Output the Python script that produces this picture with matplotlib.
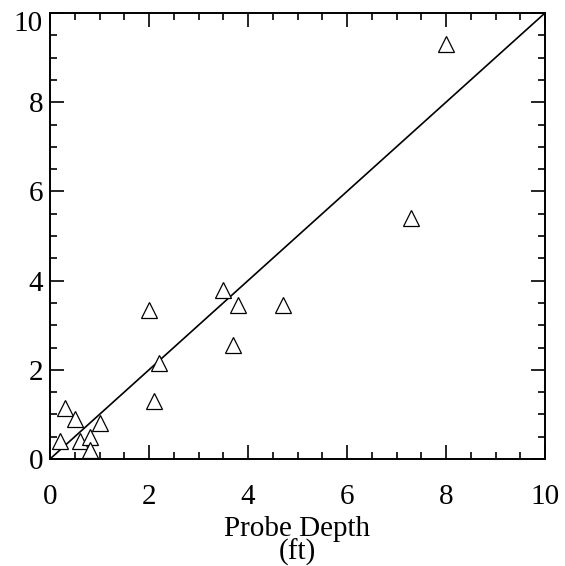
import matplotlib
matplotlib.use("Agg")
import matplotlib.pyplot as plt
import matplotlib.transforms as mtransforms
from matplotlib.ticker import MultipleLocator

# Measured vs probe depth (ft)
probe_depth = [8.0, 7.3, 4.7, 3.5, 3.8, 3.7, 2.0, 2.2, 2.1,
               0.2, 0.3, 0.5, 0.6, 0.8, 0.8, 1.0]
measured = [9.3, 5.4, 3.45, 3.8, 3.45, 2.55, 3.35, 2.15, 1.3,
            0.4, 1.15, 0.9, 0.4, 0.5, 0.2, 0.8]
one_to_one = [0, 10]

plt.rcParams["font.family"] = ["Liberation Serif", "DejaVu Serif"]

fig = plt.figure(figsize=(5.65, 5.66), dpi=100)
ax = fig.add_axes([50 / 565, 1 - 459 / 566, 495 / 565, 446 / 566])

ax.plot(one_to_one, one_to_one, color="black", lw=1.2)
ax.plot(probe_depth, measured, linestyle="none", marker="^", ms=11.5,
        mfc="white", mec="black", mew=0.9)

ax.set_xlim(0, 10)
ax.set_ylim(0, 10)
ax.xaxis.set_major_locator(MultipleLocator(2))
ax.xaxis.set_minor_locator(MultipleLocator(0.5))
ax.yaxis.set_major_locator(MultipleLocator(2))
ax.yaxis.set_minor_locator(MultipleLocator(0.5))
ax.tick_params(which="both", direction="in", top=True, right=True,
               width=1.2, labelsize=21, colors="black")
ax.tick_params(which="major", length=10)
ax.tick_params(which="minor", length=5)
ax.tick_params(axis="x", pad=18)
ax.tick_params(axis="y", pad=5)
for s in ax.spines.values():
    s.set_linewidth(1.4)

ax.set_xlabel("Probe Depth\n(ft)", fontsize=21, linespacing=0.88, labelpad=4)

# nudge the top y label down so it stays inside the figure
fig.canvas.draw()
shift = mtransforms.ScaledTranslation(0, -6 / 72, fig.dpi_scale_trans)
for tick in ax.yaxis.get_major_ticks():
    if abs(tick.get_loc() - 10) < 1e-6:
        tick.label1.set_transform(tick.label1.get_transform() + shift)

fig.savefig("out.png", dpi=100)
